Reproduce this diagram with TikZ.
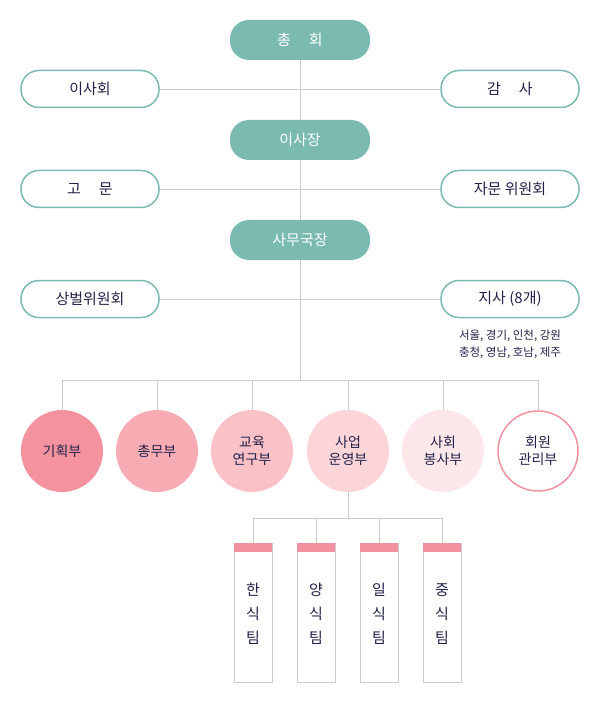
\documentclass[tikz,border=0pt]{standalone}
\usepackage{fontspec}
\setmainfont{Noto Sans CJK KR}
\definecolor{teal1}{HTML}{7BBAB1}
\definecolor{ln}{HTML}{CCCCCC}
\definecolor{tx}{HTML}{22224A}
\definecolor{p1}{HTML}{F4939F}
\definecolor{p2}{HTML}{F7ABB3}
\definecolor{p3}{HTML}{FAC1C7}
\definecolor{p4}{HTML}{FCD5D9}
\definecolor{p5}{HTML}{FDE7EA}
\definecolor{pb}{HTML}{F291A0}
\begin{document}
\begin{tikzpicture}[x=1pt,y=-1pt,
  fillbox/.style={rounded corners=19pt,fill=teal1,text=white,minimum width=140pt,minimum height=40pt,font=\fontsize{15}{18}\selectfont,inner sep=0pt},
  outbox/.style={rounded corners=18pt,draw=teal1,line width=1.5pt,fill=white,text=tx,minimum width=138pt,minimum height=37pt,font=\fontsize{15}{18}\selectfont,inner sep=0pt},
  dept/.style={circle,minimum size=82pt,inner sep=0pt,text=tx,font=\fontsize{14}{17}\selectfont,align=center},
  conn/.style={draw=ln,line width=0.8pt}]
\useasboundingbox (0,0) rectangle (600,703);
\node[fillbox] (gen) at (300,40) {총\hspace{1.2em}회};
\node[outbox] (bd) at (90,89) {이사회};
\node[outbox] (au) at (510,89) {감\hspace{1.2em}사};
\node[fillbox] (ch) at (300,140) {이사장};
\node[outbox] (ad) at (90,189) {고\hspace{1.2em}문};
\node[outbox] (cm) at (510,189) {자문 위원회};
\node[fillbox] (sg) at (300,240) {사무국장};
\node[outbox] (rw) at (90,299) {상벌위원회};
\node[outbox] (br) at (510,299) {지사 (8개)};
\node[text=tx,font=\fontsize{11.5}{17}\selectfont,align=center] (brt) at (510,344) {서울, 경기, 인천, 강원\\충청, 영남, 호남, 제주};
\coordinate (j1) at (300,89);
\coordinate (j2) at (300,189);
\coordinate (j3) at (300,299);
\coordinate (j4) at (300,380);
\begin{scope}[on background layer/.style={}]
\draw[conn] (bd.east) -- (au.west);
\draw[conn] (ad.east) -- (cm.west);
\draw[conn] (rw.east) -- (br.west);
\draw[conn] (gen.south) -- (ch.north);
\draw[conn] (ch.south) -- (sg.north);
\draw[conn] (sg.south) -- (j4);
\end{scope}
\node[dept,fill=p1] (d1) at (62,451) {기획부};
\node[dept,fill=p2] (d2) at (157,451) {총무부};
\node[dept,fill=p3] (d3) at (252,451) {교육\\연구부};
\node[dept,fill=p4] (d4) at (348,451) {사업\\운영부};
\node[dept,fill=p5] (d5) at (443,451) {사회\\봉사부};
\node[dept,fill=white,draw=pb,line width=1.5pt,minimum size=80pt] (d6) at (538,451) {회원\\관리부};
\draw[conn] (d1.north) -- (62,380) -- (538,380) -- (d6.north);
\foreach \d/\x in {d2/157,d3/252,d4/348,d5/443} \draw[conn] (\x,380) -- (\d.north);
\coordinate (k) at (348,518);
\draw[conn] (d4.south) -- (k);
\foreach \n/\x/\t in {t1/253/한,t2/316/양,t3/379/일,t4/442/중}{
  \draw[draw=ln,fill=white,line width=1pt] (\x-19,543) rectangle (\x+19,682);
  \fill[pb] (\x-19,543) rectangle (\x+19,552);
  \coordinate (\n) at (\x,543);
  \node[text=tx,font=\fontsize{15}{24}\selectfont,align=center] at (\x,614) {\t\\식\\팀};
}
\draw[conn] (t1) -- (253,518) -- (442,518) -- (t4);
\draw[conn] (316,518) -- (t2);
\draw[conn] (379,518) -- (t3);
\end{tikzpicture}
\end{document}
